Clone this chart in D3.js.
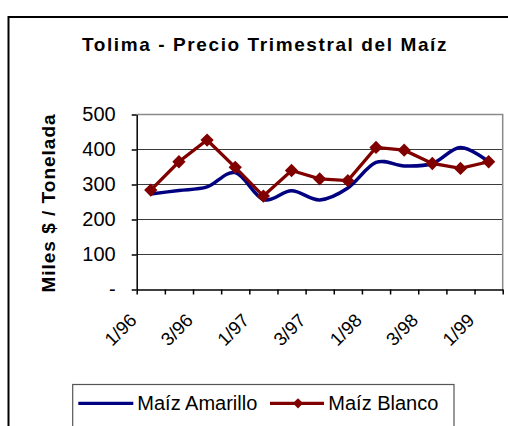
<!DOCTYPE html>
<html>
<head>
<meta charset="utf-8">
<script src="https://cdn.jsdelivr.net/npm/d3@7"></script>
<style>
  body { margin: 0; background: #fff; }
  svg { display: block; font-family: "Liberation Sans", Arial, sans-serif; }
</style>
</head>
<body>
<script>
// quarterly series, 1/96 .. 1/99
var categories = ["1/96", "2/96", "3/96", "4/96", "1/97", "2/97", "3/97", "4/97",
                  "1/98", "2/98", "3/98", "4/98", "1/99"];
var amarillo = [273, 283, 293, 334, 257, 282, 256, 290, 363, 353, 360, 406, 365];
var blanco   = [284, 365, 427, 349, 267, 340, 316, 311, 406, 398, 360, 346, 365];
var yTicks = [0, 100, 200, 300, 400, 500];
var xLabels = ["1/96", "3/96", "1/97", "3/97", "1/98", "3/98", "1/99"];

var w = 508, h = 426;
var plotL = 136.7, plotR = 502.7, plotT = 114.5, plotB = 289.5;

var svg = d3.select("body").append("svg")
    .attr("width", w)
    .attr("height", h);

// outer chart border (runs off the right / bottom edge)
svg.append("rect")
    .attr("x", 8.5).attr("y", 17)
    .attr("width", 540).attr("height", 440)
    .attr("fill", "none")
    .attr("stroke", "#000")
    .attr("stroke-width", 2);

svg.append("text")
    .attr("x", 265).attr("y", 51)
    .attr("text-anchor", "middle")
    .attr("font-size", "19px")
    .attr("font-weight", "bold")
    .attr("letter-spacing", "1.6px")
    .text("Tolima - Precio Trimestral del Maíz");

var x = d3.scaleBand().domain(categories).range([plotL, plotR]);
var xi = d3.scaleLinear().domain([0, categories.length]).range([plotL, plotR]);
var y = d3.scaleLinear().domain([0, 500]).range([plotB, plotT]);

// grid lines
svg.append("g").selectAll("line")
    .data(yTicks.filter(function(d) { return d > 0 && d < 500; }))
    .enter().append("line")
    .attr("x1", plotL).attr("x2", plotR)
    .attr("y1", function(d) { return y(d); })
    .attr("y2", function(d) { return y(d); })
    .attr("stroke", "#3a3a3a")
    .attr("stroke-width", 1);

// plot area border top / right
svg.append("path")
    .attr("d", "M" + plotL + "," + y(500) + "H" + plotR + "V" + plotB)
    .attr("fill", "none")
    .attr("stroke", "#8a8a8a")
    .attr("stroke-width", 1.5);

// y axis
var yAxis = svg.append("g")
    .attr("transform", "translate(" + plotL + ",0)")
    .call(d3.axisLeft(y).tickValues(yTicks)
        .tickFormat(function(d) { return d === 0 ? "-" : d; })
        .tickSize(5).tickSizeOuter(0).tickPadding(16));
yAxis.selectAll("text")
    .attr("font-size", "20px")
    .attr("font-family", "Liberation Sans, Arial, sans-serif")
    .attr("fill", "#000");
yAxis.selectAll("line, path").attr("stroke", "#000").attr("stroke-width", 1.5);

// x axis tick marks at category boundaries
var xTickAxis = svg.append("g")
    .attr("transform", "translate(0," + plotB + ")")
    .call(d3.axisBottom(xi).tickValues(d3.range(categories.length + 1))
        .tickFormat("").tickSize(5).tickSizeOuter(0));
xTickAxis.selectAll("line, path").attr("stroke", "#000").attr("stroke-width", 1.5);

// x labels, every second quarter, rotated
var xLabelAxis = svg.append("g")
    .attr("transform", "translate(0," + plotB + ")")
    .call(d3.axisBottom(x).tickValues(xLabels).tickSize(0));
xLabelAxis.select(".domain").remove();
xLabelAxis.selectAll("text")
    .attr("y", 0).attr("dy", 0)
    .attr("text-anchor", "end")
    .attr("transform", "translate(-13,32) rotate(-45)")
    .attr("font-size", "18.5px")
    .attr("font-family", "Liberation Sans, Arial, sans-serif")
    .attr("fill", "#000");

// y axis title
svg.append("text")
    .attr("transform", "translate(55,203) rotate(-90)")
    .attr("text-anchor", "middle")
    .attr("font-size", "19px")
    .attr("font-weight", "bold")
    .attr("letter-spacing", "1px")
    .text("Miles $ / Tonelada");

var cx = function(d, i) { return x(categories[i]) + x.bandwidth() / 2; };

var lineSmooth = d3.line()
    .x(cx)
    .y(function(d) { return y(d); })
    .curve(d3.curveCardinal.tension(0));

var lineStraight = d3.line()
    .x(cx)
    .y(function(d) { return y(d); });

svg.append("path")
    .datum(amarillo)
    .attr("d", lineSmooth)
    .attr("fill", "none")
    .attr("stroke", "#000080")
    .attr("stroke-width", 3.5);

svg.append("path")
    .datum(blanco)
    .attr("d", lineStraight)
    .attr("fill", "none")
    .attr("stroke", "#800000")
    .attr("stroke-width", 3.3);

var diamond = d3.symbol().type(d3.symbolSquare).size(88);
svg.append("g").selectAll("path")
    .data(blanco)
    .enter().append("path")
    .attr("d", diamond)
    .attr("transform", function(d, i) {
        return "translate(" + cx(d, i) + "," + y(d) + ") rotate(45)";
    })
    .attr("fill", "#800000");

// legend
var lg = svg.append("g");
lg.append("rect")
    .attr("x", 72.7).attr("y", 384.5)
    .attr("width", 381.3).attr("height", 60)
    .attr("fill", "#fff")
    .attr("stroke", "#555")
    .attr("stroke-width", 1.2);
lg.append("line")
    .attr("x1", 78.3).attr("x2", 133.3)
    .attr("y1", 403.3).attr("y2", 403.3)
    .attr("stroke", "#000080").attr("stroke-width", 3.3);
lg.append("text")
    .attr("x", 137.3).attr("y", 409.5)
    .attr("font-size", "20px")
    .text("Maíz Amarillo");
lg.append("line")
    .attr("x1", 270).attr("x2", 324)
    .attr("y1", 403.3).attr("y2", 403.3)
    .attr("stroke", "#800000").attr("stroke-width", 3.3);
lg.append("path")
    .attr("d", d3.symbol().type(d3.symbolSquare).size(52))
    .attr("transform", "translate(298,403.3) rotate(45)")
    .attr("fill", "#800000");
lg.append("text")
    .attr("x", 328.3).attr("y", 409.5)
    .attr("font-size", "20px")
    .text("Maíz Blanco");
</script>
</body>
</html>
